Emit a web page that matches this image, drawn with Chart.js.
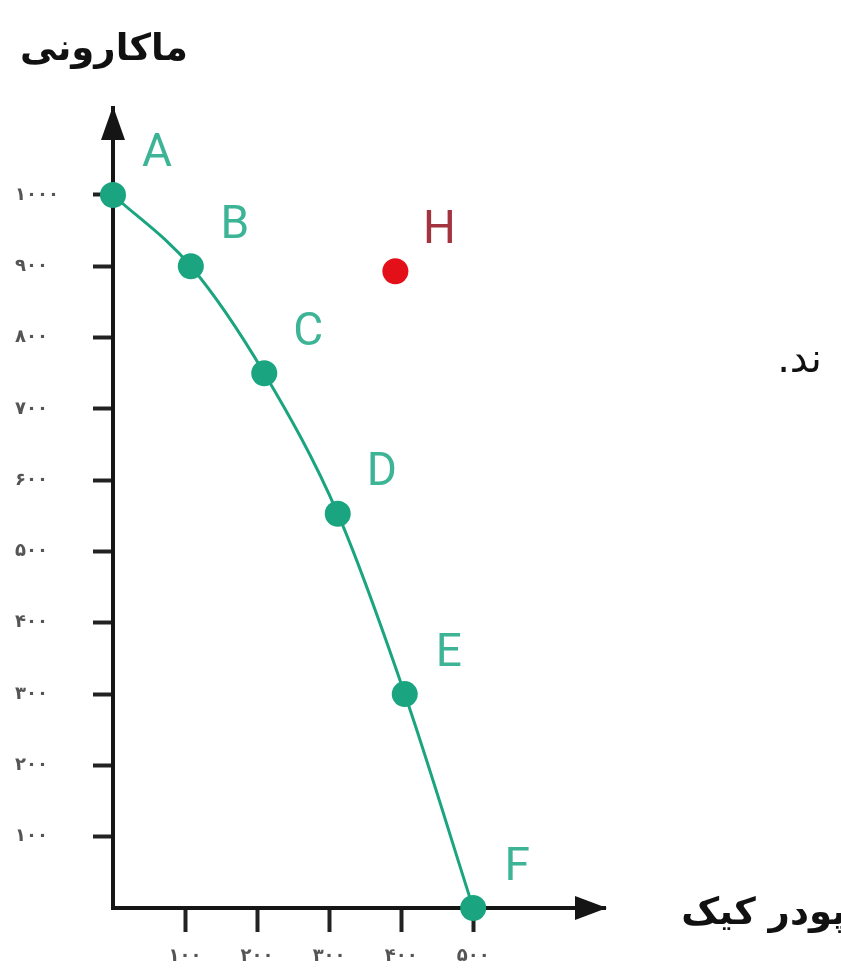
<!DOCTYPE html>
<html>
<head>
<meta charset="utf-8">
<script src="https://cdn.jsdelivr.net/npm/chart.js@4/dist/chart.umd.min.js"></script>
<style>
    body { margin: 0; background: #ffffff; }
    #wrap { width: 841px; height: 974px; position: relative; }
</style>
</head>
<body>
<div id="wrap"><canvas id="ppfChart"></canvas></div>
<script>
// frontier points (cake powder on x, macaroni on y)
const pointNames = ['A', 'B', 'C', 'D', 'E', 'F'];
const cakePowder = [0, 108, 210, 312, 405, 500];
const macaroni = [1000, 900, 750, 553, 300, 0];

// the point outside the frontier
const outsideNames = ['H'];
const outsideX = [392];
const outsideY = [893];

// tick values and their Persian labels
const xTickValues = [100, 200, 300, 400, 500];
const xTickLabels = ['۱۰۰', '۲۰۰', '۳۰۰', '۴۰۰', '۵۰۰'];
const yTickValues = [100, 200, 300, 400, 500, 600, 700, 800, 900, 1000];
const yTickLabels = ['۱۰۰', '۲۰۰', '۳۰۰', '۴۰۰', '۵۰۰', '۶۰۰', '۷۰۰', '۸۰۰', '۹۰۰', '۱۰۰۰'];

const xTitle = 'پودر کیک';
const yTitle = 'ماکارونی';
const sideText = 'ند.';

const teal = '#1aa47f';
const tealText = '#3db496';
const axisColor = '#151515';

let frontierPoints = [];
for (let i in cakePowder) {
    frontierPoints.push({ x: cakePowder[i], y: macaroni[i] });
}
let outsidePoints = [];
for (let i in outsideX) {
    outsidePoints.push({ x: outsideX[i], y: outsideY[i] });
}

const pointLabels = {
    id: 'pointLabels',
    afterDatasetsDraw(chart) {
        const ctx = chart.ctx;
        ctx.save();
        ctx.font = '46px Roboto, "DejaVu Sans", sans-serif';
        ctx.textAlign = 'center';
        ctx.textBaseline = 'middle';
        const groups = [
            { meta: chart.getDatasetMeta(0), names: pointNames, color: tealText },
            { meta: chart.getDatasetMeta(1), names: outsideNames, color: '#a3343f' },
        ];
        for (const g of groups) {
            ctx.fillStyle = g.color;
            g.meta.data.forEach((el, i) => {
                ctx.fillText(g.names[i], el.x + 44, el.y - 40);
            });
        }
        ctx.restore();
    },
    afterDraw(chart) {
        const ctx = chart.ctx;
        const area = chart.chartArea;
        ctx.save();
        ctx.fillStyle = axisColor;

        // arrow heads
        ctx.beginPath();
        ctx.moveTo(area.left, area.top - 2);
        ctx.lineTo(area.left - 12, area.top + 32);
        ctx.lineTo(area.left + 12, area.top + 32);
        ctx.closePath();
        ctx.fill();

        ctx.beginPath();
        ctx.moveTo(area.right + 2, area.bottom);
        ctx.lineTo(area.right - 30, area.bottom - 12);
        ctx.lineTo(area.right - 30, area.bottom + 12);
        ctx.closePath();
        ctx.fill();

        // axis titles
        ctx.fillStyle = '#111111';
        ctx.textBaseline = 'middle';
        ctx.direction = 'rtl';
        ctx.font = 'bold 37px "DejaVu Sans", sans-serif';
        ctx.textAlign = 'left';
        ctx.fillText(yTitle, 20, 50);
        ctx.font = 'bold 37px "DejaVu Sans", sans-serif';
        ctx.textAlign = 'right';
        ctx.fillText(xTitle, 846, area.bottom + 6);

        ctx.font = '40px "DejaVu Sans", sans-serif';
        ctx.fillText(sideText, 822, 362);
        ctx.restore();
    }
};

const ctx = document.getElementById('ppfChart').getContext('2d');

const myChart = new Chart(ctx, {
    type: 'scatter',
    data: {
        datasets: [
            {
                label: 'frontier',
                data: frontierPoints,
                showLine: true,
                clip: false,
                borderColor: teal,
                borderWidth: 3,
                backgroundColor: teal,
                pointRadius: 13,
                pointHoverRadius: 13,
                pointBorderWidth: 0,
                cubicInterpolationMode: 'monotone',
            },
            {
                label: 'H',
                data: outsidePoints,
                clip: false,
                backgroundColor: '#e3101a',
                pointRadius: 13,
                pointHoverRadius: 13,
                pointBorderWidth: 0,
            },
        ],
    },
    options: {
        responsive: true,
        maintainAspectRatio: false,
        animation: false,
        layout: {
            padding: { left: 15, top: 108, right: 236, bottom: 0 },
        },
        plugins: {
            legend: { display: false },
            tooltip: { enabled: false },
        },
        scales: {
            x: {
                type: 'linear',
                min: 0,
                max: 683,
                afterBuildTicks: (scale) => {
                    scale.ticks = xTickValues.map(v => ({ value: v }));
                },
                afterFit: (scale) => {
                    scale.height = 66;
                },
                border: { color: axisColor, width: 4 },
                grid: {
                    drawOnChartArea: false,
                    tickLength: 24,
                    tickWidth: 4,
                    tickColor: '#222222',
                },
                ticks: {
                    padding: 14,
                    color: '#555555',
                    font: { family: 'DejaVu Sans', size: 18, weight: 'bold' },
                    callback: (value) => xTickLabels[xTickValues.indexOf(value)],
                },
            },
            y: {
                type: 'linear',
                min: 0,
                max: 1122,
                afterBuildTicks: (scale) => {
                    scale.ticks = yTickValues.map(v => ({ value: v }));
                },
                afterFit: (scale) => {
                    scale.width = 98;
                },
                border: { color: axisColor, width: 4 },
                grid: {
                    drawOnChartArea: false,
                    tickLength: 20,
                    tickWidth: 4,
                    tickColor: '#222222',
                },
                ticks: {
                    crossAlign: 'far',
                    color: '#555555',
                    font: { family: 'DejaVu Sans', size: 18, weight: 'bold' },
                    callback: (value) => yTickLabels[yTickValues.indexOf(value)],
                },
            },
        },
    },
    plugins: [pointLabels],
});
</script>
</body>
</html>
